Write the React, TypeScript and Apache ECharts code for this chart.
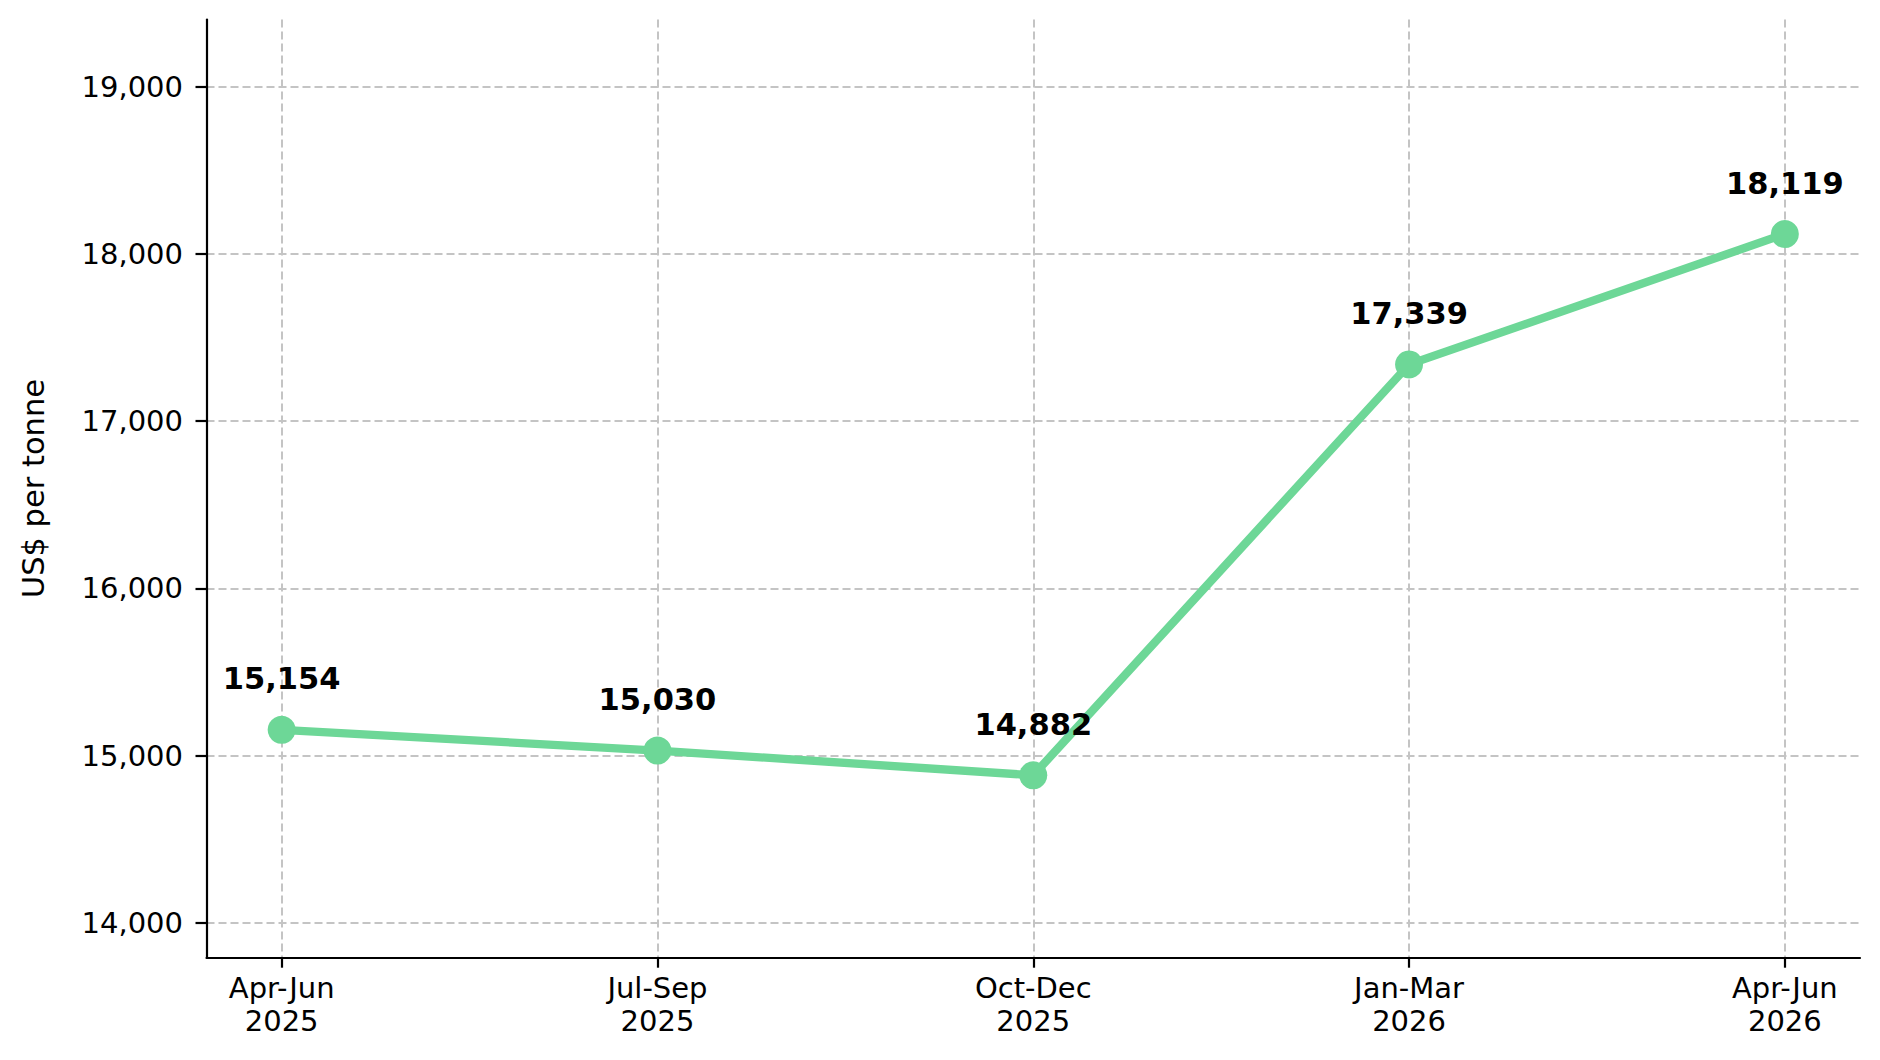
import React, { useEffect, useRef } from "react";
import * as echarts from "echarts";

const categories = ["Apr-Jun\n2025", "Jul-Sep\n2025", "Oct-Dec\n2025", "Jan-Mar\n2026", "Apr-Jun\n2026"];
const prices = [15154, 15030, 14882, 17339, 18119];
const yTicks = [14000, 15000, 16000, 17000, 18000, 19000];
const xTicks = [0, 1, 2, 3, 4];

const FONT = "DejaVu Sans";
const GREEN = "#6dd797";
const GRID = "#c4c4c4";

export default function App() {
  const ref = useRef<HTMLDivElement>(null);
  useEffect(() => {
    if (!ref.current) return;
    const chart = echarts.init(ref.current, undefined, { renderer: "svg" });
    chart.setOption({
      animation: false,
      backgroundColor: "#ffffff",
      grid: { left: 206.5, right: 20, top: 19.5, bottom: 102.3, containLabel: false },
      xAxis: {
        type: "value",
        min: -0.2,
        max: 4.2,
        axisLine: { show: true, onZero: false, lineStyle: { color: "#000", width: 2.2 } },
        axisTick: { show: true, customValues: xTicks, length: 10, lineStyle: { color: "#000", width: 2.2 } },
        axisLabel: {
          customValues: xTicks,
          formatter: (v: number) => categories[Math.round(v)] ?? "",
          fontFamily: FONT,
          fontSize: 29,
          lineHeight: 33,
          color: "#000",
          margin: 14,
        },
        splitLine: { show: true, lineStyle: { color: GRID, width: 2, type: [8, 4] } },
      },
      yAxis: {
        type: "value",
        min: 13791,
        max: 19402,
        name: "US$ per tonne",
        nameLocation: "middle",
        nameGap: 158,
        nameTextStyle: { fontFamily: FONT, fontSize: 30.5, color: "#000" },
        axisLine: { show: true, onZero: false, lineStyle: { color: "#000", width: 2.2 } },
        axisTick: { show: true, customValues: yTicks, length: 11, lineStyle: { color: "#000", width: 2.2 } },
        axisLabel: {
          customValues: yTicks,
          formatter: (v: number) => v.toLocaleString("en-US"),
          fontFamily: FONT,
          fontSize: 29,
          color: "#000",
          margin: 23.5,
        },
        splitLine: { show: true, lineStyle: { color: GRID, width: 2, type: [8, 4] } },
      },
      series: [
        {
          type: "line",
          data: prices.map((v, i) => [i, v]),
          symbol: "circle",
          symbolSize: 28,
          z: 3,
          lineStyle: { color: GREEN, width: 8.3 },
          itemStyle: { color: GREEN },
          label: {
            show: true,
            position: "inside",
            offset: [0, -51],
            formatter: (p: any) => (p.value[1] as number).toLocaleString("en-US"),
            fontFamily: FONT,
            fontWeight: "bold",
            fontSize: 30.5,
            color: "#000",
          },
        },
      ],
    });
    return () => chart.dispose();
  }, []);
  return (
    <div
      ref={ref}
      style={{ position: "absolute", left: 0, top: 0, width: 1880, height: 1060, background: "#fff" }}
    />
  );
}
